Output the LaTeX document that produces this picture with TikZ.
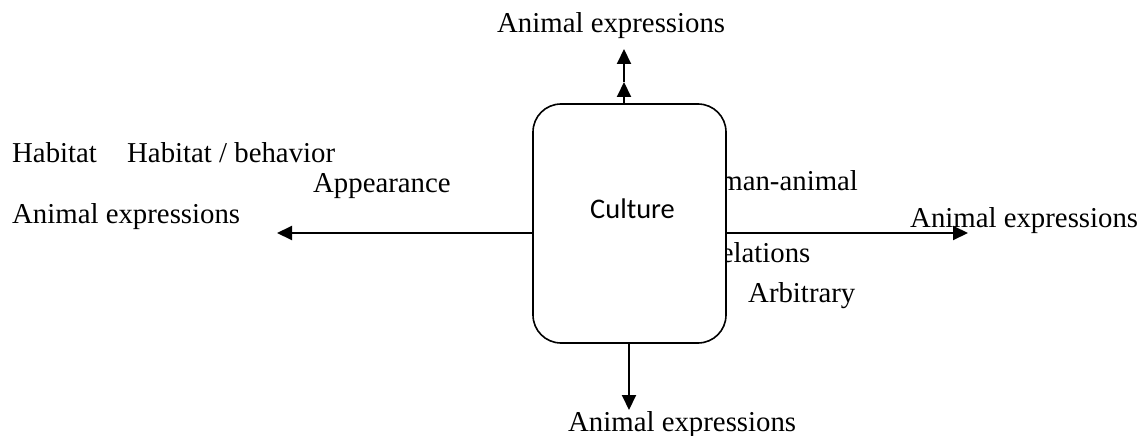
\documentclass[tikz,border=0pt]{standalone}
\usepackage{fontspec}
\setmainfont{Liberation Serif}
\newfontfamily\calib{Carlito}
\usetikzlibrary{arrows.meta}
\begin{document}
\begin{tikzpicture}[x=1pt,y=-1pt,
  lbl/.style={anchor=base west,inner sep=0pt,font=\fontsize{28.8}{34}\selectfont},
  arr/.style={line width=2pt,-{Triangle[length=15pt,width=14pt]}},
  cbox/.style={draw,line width=1.6pt,rounded corners=28pt,fill=white,minimum width=193pt,minimum height=239pt,inner sep=0pt}]
\useasboundingbox (0,0) rectangle (1144,436);
% texts behind the box
\node[lbl] (hum) at (685,190) {Human-animal};
\node[lbl] (rel) at (711,262) {relations};
% box
\node[cbox] (box) at (629.5,223.5) {};
\node[anchor=base west,inner sep=0pt,font=\calib\fontsize{28.4}{34}\selectfont] (cul) at (590,218) {Culture};
% other labels
\node[lbl] (ttop) at (497,33) {Animal expressions};
\node[lbl] (tbot) at (568,431) {Animal expressions};
\node[lbl] (tleft) at (12,223) {Animal expressions};
\node[lbl] (tright) at (910,227) {Animal expressions};
\node[lbl] (hab1) at (12,162) {Habitat};
\node[lbl] (hab2) at (127,162) {Habitat / behavior};
\node[lbl] (app) at (313,192) {Appearance};
\node[lbl] (arb) at (748,302) {Arbitrary};
% connector end points
\coordinate (tipTop) at (624,49);
\coordinate (tipMid) at (624,82);
\coordinate (tipBot) at (629,410);
\coordinate (tipL) at (277,233);
\coordinate (tipR) at (968,233);
% arrows
\draw[arr] (box.north -| tipMid) -- (tipMid);
\draw[arr] (tipMid) -- (tipTop);
\draw[arr] (box.south -| tipBot) -- (tipBot);
\draw[arr] (box.west |- tipL) -- (tipL);
\draw[arr] (box.east |- tipR) -- (tipR);
\end{tikzpicture}
\end{document}
